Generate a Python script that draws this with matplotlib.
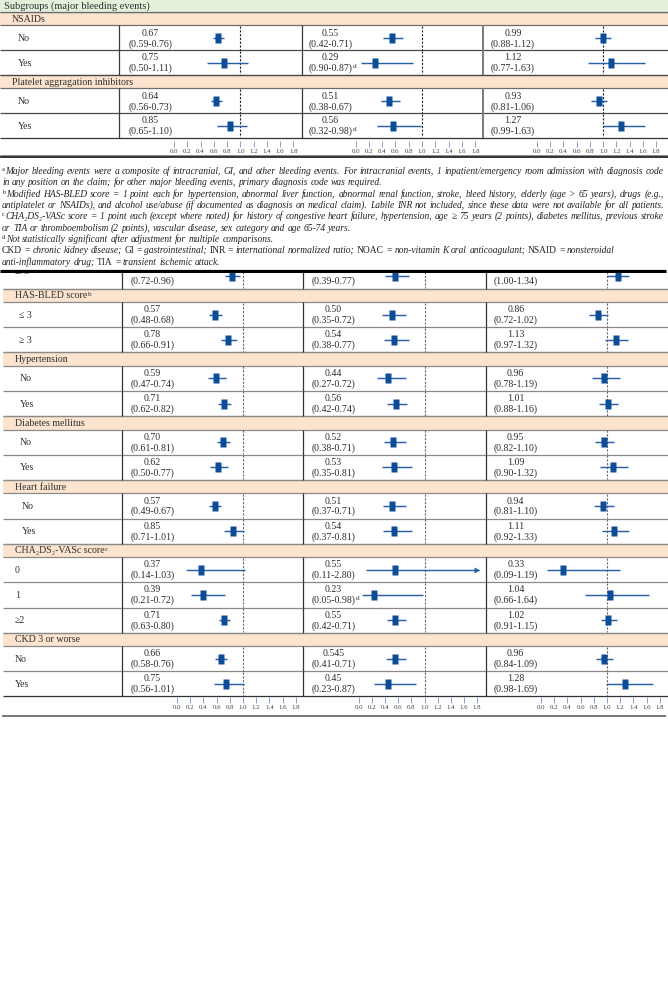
import numpy as np
import matplotlib
matplotlib.use("Agg")
import matplotlib.pyplot as plt
from matplotlib.patches import Rectangle
from matplotlib.path import Path
from matplotlib.font_manager import FontProperties

plt.rcParams['font.family'] = ['Liberation Serif', 'DejaVu Serif']

# ------------------------------------------------------------------ data
title_text = "Subgroups (major bleeding events)"

# upper table fragment
top_groups = ["NSAIDs", "Platelet aggragation inhibitors"]
top_group_sup = ["", ""]
top_labels = ["No", "Yes", "No", "Yes"]
top_group_of_row = [0, 0, 1, 1]

top_p1_est = [0.67, 0.75, 0.64, 0.85]
top_p1_lo = [0.59, 0.50, 0.56, 0.65]
top_p1_hi = [0.76, 1.11, 0.73, 1.10]

top_p2_est = [0.55, 0.29, 0.51, 0.56]
top_p2_lo = [0.42, 0.09, 0.38, 0.32]
top_p2_hi = [0.71, 0.87, 0.67, 0.98]
top_p2_ci_txt = ["(0.42-0.71)", "(0.90-0.87)", "(0.38-0.67)", "(0.32-0.98)"]
top_p2_sup = [0, 1, 0, 1]

top_p3_est = [0.99, 1.12, 0.93, 1.27]
top_p3_lo = [0.88, 0.77, 0.81, 0.99]
top_p3_hi = [1.12, 1.63, 1.06, 1.63]

# lower table fragment (first row is cut off at the top)
bot_groups = ["HAS-BLED score", "Hypertension", "Diabetes mellitus",
              "Heart failure", "CHA\u2082DS\u2082-VASc score", "CKD 3 or worse"]
bot_group_sup = ["b", "", "", "", "c", ""]
bot_labels = ["\u226575", "\u2264 3", "\u2265 3", "No", "Yes", "No", "Yes", "No", "Yes",
              "0", "1", "\u22652", "No", "Yes"]
bot_group_of_row = [-1, 0, 0, 1, 1, 2, 2, 3, 3, 4, 4, 4, 5, 5]

bot_p1_est = [0.83, 0.57, 0.78, 0.59, 0.71, 0.70, 0.62, 0.57, 0.85, 0.37, 0.39, 0.71, 0.66, 0.75]
bot_p1_lo = [0.72, 0.48, 0.66, 0.47, 0.62, 0.61, 0.50, 0.49, 0.71, 0.14, 0.21, 0.63, 0.58, 0.56]
bot_p1_hi = [0.96, 0.68, 0.91, 0.74, 0.82, 0.81, 0.77, 0.67, 1.01, 1.03, 0.72, 0.80, 0.76, 1.01]

bot_p2_est = [0.55, 0.50, 0.54, 0.44, 0.56, 0.52, 0.53, 0.51, 0.54, 0.55, 0.23, 0.55, 0.545, 0.45]
bot_p2_lo = [0.39, 0.35, 0.38, 0.27, 0.42, 0.38, 0.35, 0.37, 0.37, 0.11, 0.05, 0.42, 0.41, 0.23]
bot_p2_hi = [0.77, 0.72, 0.77, 0.72, 0.74, 0.71, 0.81, 0.71, 0.81, 2.80, 0.98, 0.71, 0.71, 0.87]
bot_p2_est_txt = ["0.55", "0.50", "0.54", "0.44", "0.56", "0.52", "0.53", "0.51", "0.54",
                  "0.55", "0.23", "0.55", "0.545", "0.45"]
bot_p2_sup = [0, 0, 0, 0, 0, 0, 0, 0, 0, 0, 1, 0, 0, 0]

bot_p3_est = [1.16, 0.86, 1.13, 0.96, 1.01, 0.95, 1.09, 0.94, 1.11, 0.33, 1.04, 1.02, 0.96, 1.28]
bot_p3_lo = [1.00, 0.72, 0.97, 0.78, 0.88, 0.82, 0.90, 0.81, 0.92, 0.09, 0.66, 0.91, 0.84, 0.98]
bot_p3_hi = [1.34, 1.02, 1.32, 1.19, 1.16, 1.10, 1.32, 1.10, 1.33, 1.19, 1.64, 1.15, 1.09, 1.69]

axis_ticks = [0.0, 0.2, 0.4, 0.6, 0.8, 1.0, 1.2, 1.4, 1.6, 1.8]
axis_max = 1.8

# footnotes: "^x" = superscript mark, "|word" = upright word, flag = justified line
foot_lines = [
    ("^a Major bleeding events were a composite of intracranial, GI, and other bleeding events. "
     "For intracranial events, 1 inpatient/emergency room admission with diagnosis code", True),
    ("in any position on the claim; for other major bleeding events, primary diagnosis code was required.", False),
    ("^b Modified HAS-BLED score = 1 point each for hypertension, abnormal liver function, abnormal renal "
     "function, stroke, bleed history, elderly (age > 65 years), drugs (e.g.,", True),
    ("antiplatelet or NSAIDs), and alcohol use/abuse (if documented as diagnosis on medical claim). "
     "Labile INR not included, since these data were not available for all patients.", True),
    ("^c CHA\u2082DS\u2082-VASc score = 1 point each (except where noted) for history of congestive heart "
     "failure, hypertension, age \u2265 75 years (2 points), diabetes mellitus, previous stroke", True),
    ("or TIA or thromboembolism (2 points), vascular disease, sex category and age 65-74 years.", False),
    ("^d Not statistically significant after adjustment for multiple comparisons.", False),
    ("|CKD |= chronic kidney disease; |GI |= gastrointestinal; |INR |= international normalized ratio; "
     "|NOAC |= non-vitamin K oral anticoagulant; |NSAID |= nonsteroidal", False),
    ("anti-inflammatory drug; |TIA |= transient ischemic attack.", False),
]


def fmt_ci(lo, hi):
    return [f"({a:.2f}-{b:.2f})" for a, b in zip(lo, hi)]


def fmt_est(v):
    return [f"{a:.2f}" for a in v]


top_panels = [
    dict(est=top_p1_est, lo=top_p1_lo, hi=top_p1_hi, est_txt=fmt_est(top_p1_est),
         ci_txt=fmt_ci(top_p1_lo, top_p1_hi), sup=[0] * 4),
    dict(est=top_p2_est, lo=top_p2_lo, hi=top_p2_hi, est_txt=fmt_est(top_p2_est),
         ci_txt=top_p2_ci_txt, sup=top_p2_sup),
    dict(est=top_p3_est, lo=top_p3_lo, hi=top_p3_hi, est_txt=fmt_est(top_p3_est),
         ci_txt=fmt_ci(top_p3_lo, top_p3_hi), sup=[0] * 4),
]
bot_panels = [
    dict(est=bot_p1_est, lo=bot_p1_lo, hi=bot_p1_hi, est_txt=fmt_est(bot_p1_est),
         ci_txt=fmt_ci(bot_p1_lo, bot_p1_hi), sup=[0] * 14),
    dict(est=bot_p2_est, lo=bot_p2_lo, hi=bot_p2_hi, est_txt=bot_p2_est_txt,
         ci_txt=fmt_ci(bot_p2_lo, bot_p2_hi), sup=bot_p2_sup),
    dict(est=bot_p3_est, lo=bot_p3_lo, hi=bot_p3_hi, est_txt=fmt_est(bot_p3_est),
         ci_txt=fmt_ci(bot_p3_lo, bot_p3_hi), sup=[0] * 14),
]

# ------------------------------------------------------------------ style / layout
W, H, DPI = 668, 996, 100
TXT = '#2e2e2e'
FOOT_COL = '#222222'
PEACH = '#fce4cf'
GREEN = '#e3f0da'
CI_COL = '#2a62aa'
MK_COL = '#0d4c97'
TICK_COL = '#8c9dc9'
BOX = Path([(-0.33, -0.5), (0.33, -0.5), (0.33, 0.5), (-0.33, 0.5), (-0.33, -0.5)],
           [Path.MOVETO, Path.LINETO, Path.LINETO, Path.LINETO, Path.CLOSEPOLY])

fig = plt.figure(figsize=(W / DPI, H / DPI), dpi=DPI)
fig.patch.set_facecolor('white')
renderer = fig.canvas.get_renderer()


def add_ax(x0, y0, x1, y1):
    ax = fig.add_axes([x0 / W, 1 - y1 / H, (x1 - x0) / W, (y1 - y0) / H])
    ax.set_axis_off()
    return ax


def text_width(text, size, **kw):
    t = fig.text(0, 0, text, fontsize=size, **kw)
    w = t.get_window_extent(renderer).width
    t.remove()
    return w


def fit_size(text, target, base=7.0, **kw):
    return base * target / text_width(text, base, **kw)


FS = fit_size("(0.59-0.76)", 44.5)
FS_TITLE = fit_size(title_text, 146)
FS_TICK = fit_size("0.0", 8.6)

TOP_SPLIT = 273.0
axT = add_ax(0, 0, W, TOP_SPLIT)
axT.set_xlim(0, W)
axT.set_ylim(TOP_SPLIT, 0)
axB = add_ax(0, TOP_SPLIT, W, H)
axB.set_xlim(0, W)
axB.set_ylim(H, TOP_SPLIT)

top_geom = dict(y_start=12.0, band_h=13.5, row_h=24.75, band_x0=0, seps=[119, 302, 483, W],
                sep_cols=['#3a3a3a', '#3a3a3a', '#7a7a7a'], sep_lw=[0.9, 0.9, 1.4],
                text_x=[150.5, 330.5, 513.0], px0=[174.0, 355.5, 537.0], ppu=[66.3, 66.5, 66.2],
                tick_y=(141, 147), group_x=12, row_x=[18, 18], label_dy=0,
                band_line='#6d6d6d', row_line='#4a4a4a', ref_col='#222222',
                clip_top=12.0)
bot_geom = dict(y_start=263.4, band_h=13.5, row_h=25.15, band_x0=3, seps=[122, 303, 486, W],
                sep_cols=['#333333', '#333333', '#333333'], sep_lw=[0.9, 0.9, 0.9],
                text_x=[152.3, 333.3, 515.7], px0=[177.0, 359.0, 541.0], ppu=[66.0, 65.5, 66.0],
                tick_y=(697, 703), group_x=15, row_x=[19, 20, 20, 21.5, 15, 15], label_dy=-5,
                band_line='#8a8a8a', row_line='#8a8a8a', ref_col='#666666',
                clip_top=TOP_SPLIT)


def layout_rows(grp_of_row, g):
    bands, rows = [], []
    y = g['y_start']
    prev = None
    for gi in grp_of_row:
        if gi >= 0 and gi != prev:
            bands.append((y, y + g['band_h'], gi))
            y += g['band_h']
        prev = gi
        rows.append((y, y + g['row_h']))
        y += g['row_h']
    return bands, rows, y


def sup_after(canvas, artist, mark, size):
    canvas.annotate(mark, xy=(1, 1), xycoords=artist, xytext=(0.3, -0.2),
                    textcoords='offset points', fontsize=size, color=TXT,
                    ha='left', va='top', zorder=4)


def draw_section(canvas, groups, group_sup, labels, grp_of_row, panels, g):
    bands, rows, y_end = layout_rows(grp_of_row, g)
    kw = dict(fontsize=FS, color=TXT, clip_on=True)
    for (y0, y1, gi) in bands:
        canvas.add_patch(Rectangle((g['band_x0'], y0), W - g['band_x0'], y1 - y0,
                                   fc=PEACH, ec='none', zorder=1))
        canvas.hlines([y0, y1], g['band_x0'], W, colors=g['band_line'], lw=0.9, zorder=3)
        gt = canvas.text(g['group_x'], (y0 + y1) / 2 + 0.5, groups[gi], ha='left', va='center',
                         zorder=4, **kw)
        if group_sup[gi]:
            sup_after(canvas, gt, group_sup[gi], FS * 0.72)
    for i, (y0, y1) in enumerate(rows):
        gi = grp_of_row[i]
        line_col = '#333333' if i == len(rows) - 1 else g['row_line']
        canvas.hlines(y1, g['band_x0'], W, colors=line_col, lw=0.9, zorder=3)
        for k in range(3):
            canvas.vlines(g['seps'][k], y0, y1, colors=g['sep_cols'][k], lw=g['sep_lw'][k], zorder=3)
        lx = g['row_x'][gi] if gi >= 0 else g['group_x']
        dy = g['label_dy'] if gi < 0 else 0
        canvas.text(lx, (y0 + y1) / 2 + 0.5 + dy, labels[i], ha='left', va='center', zorder=4, **kw)

    for p, pan in enumerate(panels):
        xL, xR = g['seps'][p], g['seps'][p + 1]
        px0, ppu = g['px0'][p], g['ppu'][p]
        ax = add_ax(xL + 0.5, g['clip_top'], xR - 0.5, y_end)
        ax.set_xlim((xL + 0.5 - px0) / ppu, (xR - 0.5 - px0) / ppu)
        ax.set_ylim(y_end, g['clip_top'])
        for i, (y0, y1) in enumerate(rows):
            yc = (y0 + y1) / 2
            ax.vlines(1.0, y0 + 0.5, y1 - 0.5, colors=g['ref_col'], lw=0.8,
                      linestyles=(0, (2.0, 1.4)), zorder=1)
            hi = min(pan['hi'][i], axis_max)
            ax.hlines(yc, pan['lo'][i], hi, colors=CI_COL, lw=1.05, zorder=2)
            if pan['hi'][i] > axis_max:
                ax.plot([axis_max], [yc], marker='>', ms=5, color=CI_COL, mec='none', zorder=2)
            ax.plot([pan['est'][i]], [yc], marker=BOX, ms=6.6, color=MK_COL, mec='none',
                    ls='none', zorder=3)
            tx = g['text_x'][p]
            # the estimate line of the row cut by the fragment edge is not visible at all
            if y0 + 7.6 > g['clip_top'] + 3:
                canvas.text(tx, y0 + 7.6, pan['est_txt'][i], ha='center', va='center',
                            zorder=4, **kw)
            ci = canvas.text(tx, y0 + 18.2, pan['ci_txt'][i], ha='center', va='center', zorder=4, **kw)
            if pan['sup'][i]:
                sup_after(canvas, ci, 'd', FS * 0.72)
        # tick strip
        ty0, ty1 = g['tick_y']
        tax = fig.add_axes([px0 / W, 1 - ty1 / H, axis_max * ppu / W, (ty1 - ty0) / H])
        tax.patch.set_visible(False)
        for s in tax.spines.values():
            s.set_visible(False)
        tax.set_xlim(0, axis_max)
        tax.set_ylim(0, 1)
        tax.set_yticks([])
        tax.set_xticks(axis_ticks)
        tax.set_xticklabels([f"{t:.1f}" for t in axis_ticks])
        tax.tick_params(axis='x', direction='in', length=(ty1 - ty0) * 72 / DPI, width=0.7,
                        color=TICK_COL, labelsize=FS_TICK, labelcolor='#444444', pad=1.3)
    return y_end


# ------------------------------------------------------------------ top fragment
axT.add_patch(Rectangle((0, 0), W, 11.5, fc=GREEN, ec='none', zorder=1))
axT.text(3.5, 6.0, title_text, fontsize=FS_TITLE, color=TXT, ha='left', va='center', zorder=4)
axT.hlines(11.8, 0, W, colors='#4a4a4a', lw=0.9, zorder=3)
draw_section(axT, top_groups, top_group_sup, top_labels, top_group_of_row, top_panels, top_geom)
axT.hlines(155.2, 0, W, colors='#8a8a8a', lw=0.7, zorder=3)
axT.hlines(157.4, 0, W, colors='#111111', lw=1.2, zorder=3)


# ---------------- footnotes, laid out word by word (justified lines reach the margin)
try:
    from matplotlib.backends.backend_agg import get_hinting_flag
except Exception:  # pragma: no cover
    get_hinting_flag = None


def snap_baseline(word, prop, target_row):
    """y (pixels from top) that puts the rasterised baseline of `word` on target_row,
    so neighbouring words do not jitter by a pixel."""
    try:
        font = renderer._prepare_font(prop)
        font.set_text(word, 0, flags=get_hinting_flag())
        _, h26 = font.get_width_height()
        d26 = font.get_descent()
        ymax26 = h26 - d26
        k = target_row - (ymax26 // 64) + (h26 // 64)
        return k - d26 / 64.0 + 1e-4
    except Exception:
        return float(target_row)


def tokenise(line):
    toks = []
    join = False
    for wd in line.split(' '):
        if wd.startswith('^'):
            toks.append((wd[1:], 'sup', False))
            join = True
            continue
        style = 'normal' if wd.startswith('|') else 'italic'
        toks.append((wd.lstrip('|'), style, join))
        join = False
    return toks


def make_words(tokens, fs):
    arts = []
    for txt, kind, join in tokens:
        if kind == 'sup':
            t = axT.text(0, 0, txt, fontsize=fs * 0.68, color=FOOT_COL, va='baseline', ha='left',
                         fontstyle='normal', zorder=4)
        else:
            t = axT.text(0, 0, txt, fontsize=fs, color=FOOT_COL, va='baseline', ha='left',
                         fontstyle=kind, zorder=4)
        w = t.get_window_extent(renderer).width
        arts.append((t, w, kind, join))
    return arts


FOOT_X0, FOOT_X1 = 2.0, 664.0
base_fs = 7.0
probe = make_words(tokenise(foot_lines[3][0]), base_fs)
space0 = base_fs * DPI / 72 * 0.25
nat = sum(a[1] for a in probe) + space0 * (len(probe) - 1)
for a in probe:
    a[0].remove()
FOOT_FS = base_fs * (FOOT_X1 - FOOT_X0) / nat
space = FOOT_FS * DPI / 72 * 0.25

for li, (line, justify) in enumerate(foot_lines):
    row = int(round(171.0 + li * 11.35 + 3.0))
    arts = make_words(tokenise(line), FOOT_FS)
    n_gaps = sum(1 for k, a in enumerate(arts) if k > 0 and not a[3])
    total = sum(a[1] for a in arts) + sum(0.5 for a in arts if a[2] == 'sup')
    gap = space
    if justify and n_gaps:
        gap = (FOOT_X1 - FOOT_X0 - total) / n_gaps
    x = FOOT_X0
    for k, (t, w, kind, join) in enumerate(arts):
        if k > 0 and not join:
            x += gap
        target = row - 3 if kind == 'sup' else row
        y = snap_baseline(t.get_text(), t.get_fontproperties(), target)
        t.set_position((x, y))
        x += w + (0.5 if kind == 'sup' else 0.0)

axT.hlines(271.3, 0, 666, colors='#000000', lw=2.3, zorder=5)

# ------------------------------------------------------------------ bottom fragment
draw_section(axB, bot_groups, bot_group_sup, bot_labels, bot_group_of_row, bot_panels, bot_geom)
axB.hlines(716.0, 2, 666, colors='#555555', lw=1.1, zorder=3)

fig.savefig("out.png", dpi=DPI, facecolor='white')
